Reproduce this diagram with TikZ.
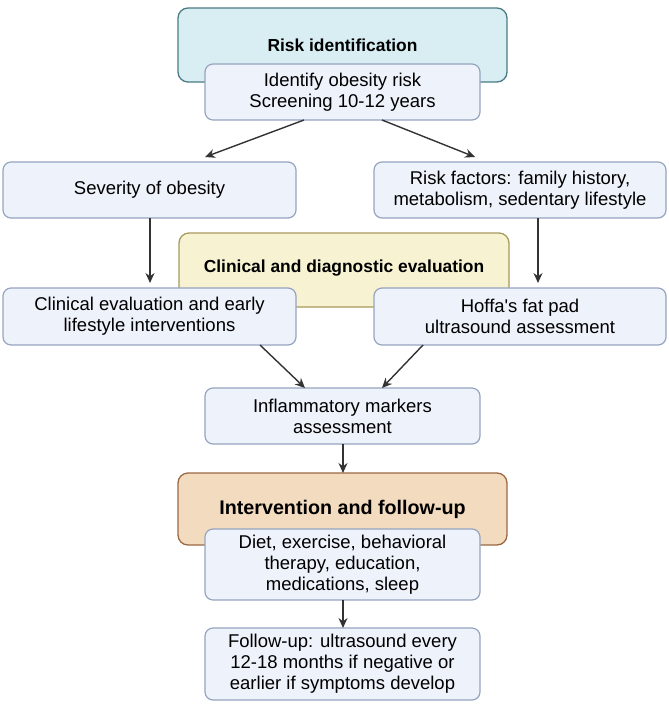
\documentclass[tikz,border=0pt]{standalone}
\usepackage{fontspec}
\setmainfont{Liberation Sans}
\usetikzlibrary{arrows.meta}
\definecolor{tealfill}{HTML}{D8EEF3}
\definecolor{tealdraw}{HTML}{4A7C84}
\definecolor{yelfill}{HTML}{F6F2D2}
\definecolor{yeldraw}{HTML}{A89A5A}
\definecolor{orgfill}{HTML}{F2DBBE}
\definecolor{orgdraw}{HTML}{9A6944}
\definecolor{boxfill}{HTML}{EEF2FA}
\definecolor{boxdraw}{HTML}{95A4C0}
\definecolor{arr}{HTML}{333333}
\begin{document}
\begin{tikzpicture}[x=1pt,y=-1pt,
  stage/.style={draw, line width=1.3pt, rounded corners=10pt},
  box/.style={draw=boxdraw, fill=boxfill, line width=1.2pt, rounded corners=8pt},
  txt/.style={font=\fontsize{18.5}{21}\selectfont, align=center, text=black},
  ttl/.style={font=\fontsize{17.4}{21}\selectfont\bfseries, text=black},
  conn/.style={draw=arr, line width=1.4pt, -{Stealth[length=10pt,width=9pt]}}]
\useasboundingbox (0,0) rectangle (669,713);
% stage boxes
\draw[stage, draw=tealdraw, fill=tealfill] (178,8) rectangle (507,82);
\node[ttl] (t1) at (342.5,45) {Risk identification};
\draw[stage, draw=yeldraw, fill=yelfill] (179,233) rectangle (509,307);
\node[ttl] (t2) at (344,268) {Clinical and diagnostic evaluation};
\draw[stage, draw=orgdraw, fill=orgfill] (178,473) rectangle (507,545);
\node[ttl, font=\fontsize{19.7}{21}\selectfont\bfseries] (t3) at (342.5,509) {Intervention and follow-up};
% boxes
\draw[box] (205,64) rectangle (480,120);
\node[txt] (id) at (342.5,92) {Identify obesity risk\\Screening 10-12 years};
\draw[box] (3,162) rectangle (296,218);
\node[txt] (sev) at (149.5,190) {Severity of obesity};
\draw[box] (374,162) rectangle (666,218);
\node[txt] (rf) at (520,190) {Risk factors: family history,\\metabolism, sedentary lifestyle};
\draw[box] (3,288) rectangle (296,345);
\node[txt] (ce) at (149.5,316.5) {Clinical evaluation and early\\lifestyle interventions};
\draw[box] (374,288) rectangle (666,345);
\node[txt] (hf) at (520,316.5) {Hoffa\textquotesingle s fat pad\\ultrasound assessment};
\draw[box] (205,388) rectangle (480,444);
\node[txt] (inf) at (342.5,416) {Inflammatory markers\\assessment};
\draw[box] (205,529) rectangle (480,600);
\node[txt] (diet) at (342.5,564.5) {Diet, exercise, behavioral\\therapy, education,\\medications, sleep};
\draw[box] (205,628) rectangle (480,700);
\node[txt] (fu) at (342.5,664) {Follow-up: ultrasound every\\12-18 months if negative or\\earlier if symptoms develop};
% anchor coordinates
\coordinate (idL) at (304,120);
\coordinate (idR) at (382,120);
\coordinate (sevT) at (205,157);
\coordinate (rfT) at (475,157);
\coordinate (sevB) at (150,218);
\coordinate (ceT) at (150,283);
\coordinate (rfB) at (538,218);
\coordinate (hfT) at (538,283);
\coordinate (ceB) at (260,345);
\coordinate (hfB) at (423,345);
\coordinate (infTL) at (305,388);
\coordinate (infTR) at (382,388);
\coordinate (infB) at (343,444);
\coordinate (orgT) at (343,473);
\coordinate (dietB) at (343,600);
\coordinate (fuT) at (343,628);
% connectors
\draw[conn] (idL) -- (sevT);
\draw[conn] (idR) -- (rfT);
\draw[conn] (sevB) -- (ceT);
\draw[conn] (rfB) -- (hfT);
\draw[conn] (ceB) -- (infTL);
\draw[conn] (hfB) -- (infTR);
\draw[conn] (infB) -- (orgT);
\draw[conn] (dietB) -- (fuT);
\end{tikzpicture}
\end{document}
